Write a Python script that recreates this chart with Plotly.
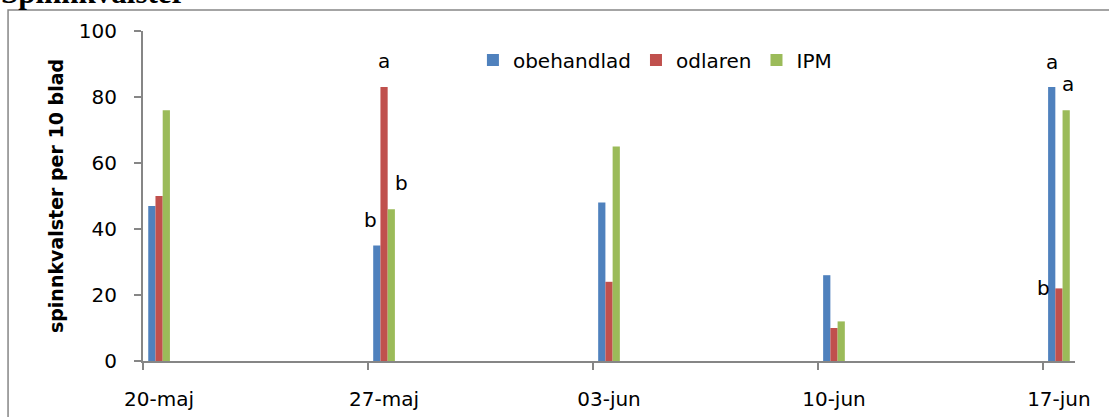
import pandas as pd
import plotly.graph_objects as go

dates = ["2011-05-20", "2011-05-27", "2011-06-03", "2011-06-10", "2011-06-17"]
date_labels = ["20-maj", "27-maj", "03-jun", "10-jun", "17-jun"]
series_names = ["obehandlad", "odlaren", "IPM"]
obehandlad = [47, 35, 48, 26, 83]
odlaren = [50, 83, 24, 10, 22]
ipm = [76, 46, 65, 12, 76]
y_ticks = [0, 20, 40, 60, 80, 100]

# significance letters: (date index, series index, letter)
letters = [
    (1, 1, "a"), (1, 0, "b"), (1, 2, "b"),
    (4, 0, "a"), (4, 2, "a"), (4, 1, "b"),
]
# label placement (pixel shifts from the bar top centre), styling only
letter_shift = [(0, 26), (-6, 26), (10, 26), (0, 25), (2, 26), (-15, 0)]

colors = ["#4F81BD", "#C0504D", "#9BBB59"]
d = pd.to_datetime(pd.Series(dates))
days = [(x - d.iloc[0]).days for x in d]
centers = [v + 0.5 for v in days]

bar_w = 0.225
offsets = [-0.337, -0.112, 0.113]
values = [obehandlad, odlaren, ipm]

FONT = "DejaVu Sans"

fig = go.Figure()
for name, vals, col, off in zip(series_names, values, colors, offsets):
    fig.add_trace(go.Bar(
        x=centers, y=vals, name=name, width=bar_w, offset=off,
        marker=dict(color=col, line=dict(width=0)),
    ))

for (di, si, txt), (xs, ys) in zip(letters, letter_shift):
    xc = centers[di] + offsets[si] + bar_w / 2
    yv = values[si][di]
    fig.add_annotation(x=xc, y=yv, text=txt, showarrow=False, xshift=xs, yshift=ys,
                       font=dict(size=20, color="black", family=FONT))

fig.add_annotation(x=-0.1545, y=1.0576, xref="paper", yref="paper", text="<b>Spinnkvalster</b>",
                   showarrow=False, xanchor="left", yanchor="bottom",
                   font=dict(family="Liberation Serif", size=31, color="black"))

# outer chart border (left + top visible)
fig.add_shape(type="rect", xref="paper", yref="paper", x0=-0.1448, y0=-0.3, x1=1.2, y1=1.0636,
              line=dict(color="#868686", width=1.5), fillcolor="rgba(0,0,0,0)")

fig.update_layout(
    width=1109, height=417,
    margin=dict(l=143, r=34, t=31, b=56, autoexpand=False),
    plot_bgcolor="white", paper_bgcolor="white",
    barmode="overlay",
    showlegend=True,
    legend=dict(orientation="h", x=0.354, y=0.912, xanchor="left", yanchor="middle",
                font=dict(family=FONT, size=20, color="black"),
                itemwidth=30, tracegroupgap=0, bgcolor="rgba(0,0,0,0)"),
    font=dict(family=FONT, color="black"),
)
fig.update_xaxes(
    range=[0, days[-1] + 1], automargin=False,
    tickvals=centers, ticktext=date_labels, ticks="outside", ticklen=19,
    tickcolor="rgba(0,0,0,0)",
    tickfont=dict(family=FONT, size=20, color="black"),
    showline=True, linecolor="#868686", linewidth=2,
    showgrid=False, zeroline=False,
    minor=dict(tickvals=days, ticks="outside", ticklen=7, tickcolor="#868686", tickwidth=2, showgrid=False),
)
fig.update_yaxes(
    range=[0, 100], tickvals=y_ticks, automargin=False,
    ticks="outside", ticklen=7, tickcolor="#868686", tickwidth=1.5,
    ticklabelstandoff=13,
    tickfont=dict(family=FONT, size=20, color="black"),
    showline=True, linecolor="#868686", linewidth=2,
    showgrid=False, zeroline=False,
    title=dict(text="<b>spinnkvalster per 10 blad</b>", font=dict(family=FONT, size=19, color="black"), standoff=10),
)
fig.write_html("out.html", config={"displayModeBar": False},
               post_script="document.body.style.margin='0';")
